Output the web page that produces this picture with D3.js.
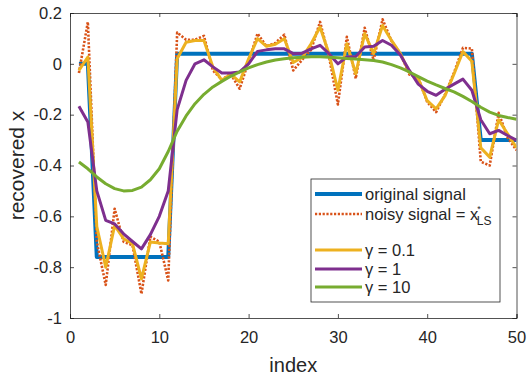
<!DOCTYPE html>
<html lang="en">
<head>
<meta charset="utf-8">
<title>recovered signal</title>
<script src="https://cdn.jsdelivr.net/npm/d3@7"></script>
<style>
body { margin: 0; background: #fff; }
text { font-family: "Liberation Sans", Arial, sans-serif; fill: #262626; }
</style>
</head>
<body>
<div id="chart"></div>
<script>
// values, index 1..50
var original = [0, 0, -0.76, -0.76, -0.76, -0.76, -0.76, -0.76, -0.76, -0.76,
    -0.76, 0.04, 0.04, 0.04, 0.04, 0.04, 0.04, 0.04, 0.04, 0.04,
    0.04, 0.04, 0.04, 0.04, 0.04, 0.04, 0.04, 0.04, 0.04, 0.04,
    0.04, 0.04, 0.04, 0.04, 0.04, 0.04, 0.04, 0.04, 0.04, 0.04,
    0.04, 0.04, 0.04, 0.04, 0.04, -0.3, -0.3, -0.3, -0.3, -0.3];
var noisy = [-0.036, 0.165, -0.70, -0.87, -0.57, -0.70, -0.714, -0.905, -0.68, -0.70,
    -0.852, 0.123, 0.095, 0.095, 0.11, -0.026, -0.062, -0.04, -0.098, 0.01,
    0.119, 0.069, 0.082, 0.115, -0.026, 0.016, 0.055, 0.165, 0.03, -0.16,
    0.106, -0.058, 0.142, 0.014, 0.175, 0.09, 0.04, -0.042, -0.055, -0.15,
    -0.19, -0.12, -0.035, 0.063, 0.06, -0.385, -0.40, -0.193, -0.29, -0.34];
var gamma01 = [-0.026, 0.027, -0.64, -0.80, -0.636, -0.688, -0.708, -0.846, -0.701, -0.705,
    -0.708, 0.02, 0.085, 0.092, 0.092, -0.012, -0.065, -0.041, -0.071, 0.02,
    0.099, 0.069, 0.077, 0.099, 0.005, 0.025, 0.079, 0.145, 0.04, -0.104,
    0.079, -0.039, 0.119, 0.04, 0.151, 0.092, 0.04, -0.035, -0.058, -0.145,
    -0.177, -0.125, -0.04, 0.048, 0.01, -0.33, -0.367, -0.22, -0.275, -0.33];
var gamma1 = [-0.167, -0.229, -0.50, -0.616, -0.63, -0.669, -0.699, -0.728, -0.672, -0.60,
    -0.50, -0.18, -0.065, 0.0, 0.016, -0.012, -0.036, -0.036, -0.032, 0.0,
    0.049, 0.055, 0.059, 0.059, 0.04, 0.042, 0.059, 0.073, 0.04, 0.0,
    0.027, 0.029, 0.066, 0.069, 0.092, 0.073, 0.035, -0.026, -0.08, -0.108,
    -0.124, -0.1, -0.08, -0.06, -0.104, -0.22, -0.275, -0.262, -0.282, -0.30];
var gamma10 = [-0.386, -0.413, -0.445, -0.472, -0.491, -0.50, -0.498, -0.485, -0.456, -0.413,
    -0.345, -0.265, -0.205, -0.157, -0.12, -0.091, -0.069, -0.049, -0.032, -0.016,
    -0.003, 0.007, 0.015, 0.02, 0.024, 0.026, 0.028, 0.028, 0.026, 0.024,
    0.021, 0.019, 0.016, 0.013, 0.007, -0.003, -0.016, -0.032, -0.05, -0.068,
    -0.083, -0.097, -0.11, -0.128, -0.148, -0.171, -0.19, -0.203, -0.211, -0.218];

var xTicks = [0, 10, 20, 30, 40, 50];
var yTicks = [0.2, 0, -0.2, -0.4, -0.6, -0.8, -1];

var width = 529, height = 376;
var plot = { left: 70, right: 516.5, top: 13, bottom: 318 };

var svg = d3.select("#chart").append("svg")
    .attr("width", width)
    .attr("height", height);

var x = d3.scaleLinear().domain([0, 50]).range([plot.left, plot.right]);
var y = d3.scaleLinear().domain([-1, 0.2]).range([plot.bottom, plot.top]);

var axisColor = "#262626";

// ticks inside the box, on all four sides (MATLAB style)
svg.append("g")
    .attr("transform", "translate(0," + plot.bottom + ")")
    .call(d3.axisBottom(x).tickValues(xTicks).tickSize(-4).tickPadding(13)
        .tickFormat(function(d) { return d; }))
    .call(styleAxis);
svg.append("g")
    .attr("transform", "translate(0," + plot.top + ")")
    .call(d3.axisTop(x).tickValues(xTicks).tickSize(-4).tickFormat(""))
    .call(styleAxis);
svg.append("g")
    .attr("transform", "translate(" + plot.left + ",0)")
    .call(d3.axisLeft(y).tickValues(yTicks).tickSize(-4).tickPadding(8)
        .tickFormat(function(d) { return String(d); }))
    .call(styleAxis);
svg.append("g")
    .attr("transform", "translate(" + plot.right + ",0)")
    .call(d3.axisRight(y).tickValues(yTicks).tickSize(-4).tickFormat(""))
    .call(styleAxis);

function styleAxis(g) {
    g.selectAll("path, line").attr("stroke", axisColor).attr("stroke-width", 0.8);
    g.selectAll("text")
        .attr("fill", axisColor)
        .style("font-size", "16.5px")
        .style("font-family", "Liberation Sans, Arial, sans-serif");
}

svg.append("defs").append("clipPath").attr("id", "plotClip")
    .append("rect")
    .attr("x", plot.left).attr("y", plot.top)
    .attr("width", plot.right - plot.left).attr("height", plot.bottom - plot.top);

var line = d3.line()
    .x(function(d, i) { return x(i + 1); })
    .y(function(d) { return y(d); });

var series = [
    { values: original, color: "#0072BD", width: 4, dash: null },
    { values: noisy, color: "#D95319", width: 2.6, dash: "2.2,1.6" },
    { values: gamma01, color: "#EDB120", width: 3, dash: null },
    { values: gamma1, color: "#7E2F8E", width: 3, dash: null },
    { values: gamma10, color: "#77AC30", width: 3, dash: null }
];

svg.append("g")
    .attr("clip-path", "url(#plotClip)")
    .selectAll("path")
    .data(series)
    .enter().append("path")
    .attr("d", function(d) { return line(d.values); })
    .attr("fill", "none")
    .attr("stroke", function(d) { return d.color; })
    .attr("stroke-width", function(d) { return d.width; })
    .attr("stroke-dasharray", function(d) { return d.dash; })
    .attr("stroke-linejoin", "round");

// axis labels
svg.append("text")
    .attr("x", (plot.left + plot.right) / 2)
    .attr("y", 372)
    .attr("text-anchor", "middle")
    .style("font-size", "20px")
    .text("index");

svg.append("text")
    .attr("transform", "translate(24," + ((plot.top + plot.bottom) / 2) + ") rotate(-90)")
    .attr("text-anchor", "middle")
    .style("font-size", "21px")
    .text("recovered x");

// legend
var legend = svg.append("g");
legend.append("rect")
    .attr("x", 311).attr("y", 179)
    .attr("width", 189).attr("height", 123)
    .attr("fill", "#fff")
    .attr("stroke", axisColor)
    .attr("stroke-width", 0.8);

var legendY = [194, 214, 250, 269, 287];
var gammaLabels = ["0.1", "1", "10"];

series.forEach(function(s, i) {
    var ly = legendY[i];
    legend.append("line")
        .attr("x1", 315).attr("x2", 362)
        .attr("y1", ly).attr("y2", ly)
        .attr("stroke", s.color)
        .attr("stroke-width", s.width)
        .attr("stroke-dasharray", s.dash);
    var t = legend.append("text")
        .attr("x", 365).attr("y", ly + 5.5)
        .style("font-size", "16.5px");
    if (i === 0) {
        t.text("original signal");
    } else if (i === 1) {
        t.append("tspan").text("noisy signal = x");
        t.append("tspan").attr("dy", -8).attr("dx", -1).style("font-size", "9px").text("*");
        t.append("tspan").attr("dy", 13).attr("dx", -4).style("font-size", "12px").text("LS");
    } else {
        t.append("tspan").text("\u03b3");
        t.append("tspan").text(" = " + gammaLabels[i - 2]);
    }
});
</script>
</body>
</html>
